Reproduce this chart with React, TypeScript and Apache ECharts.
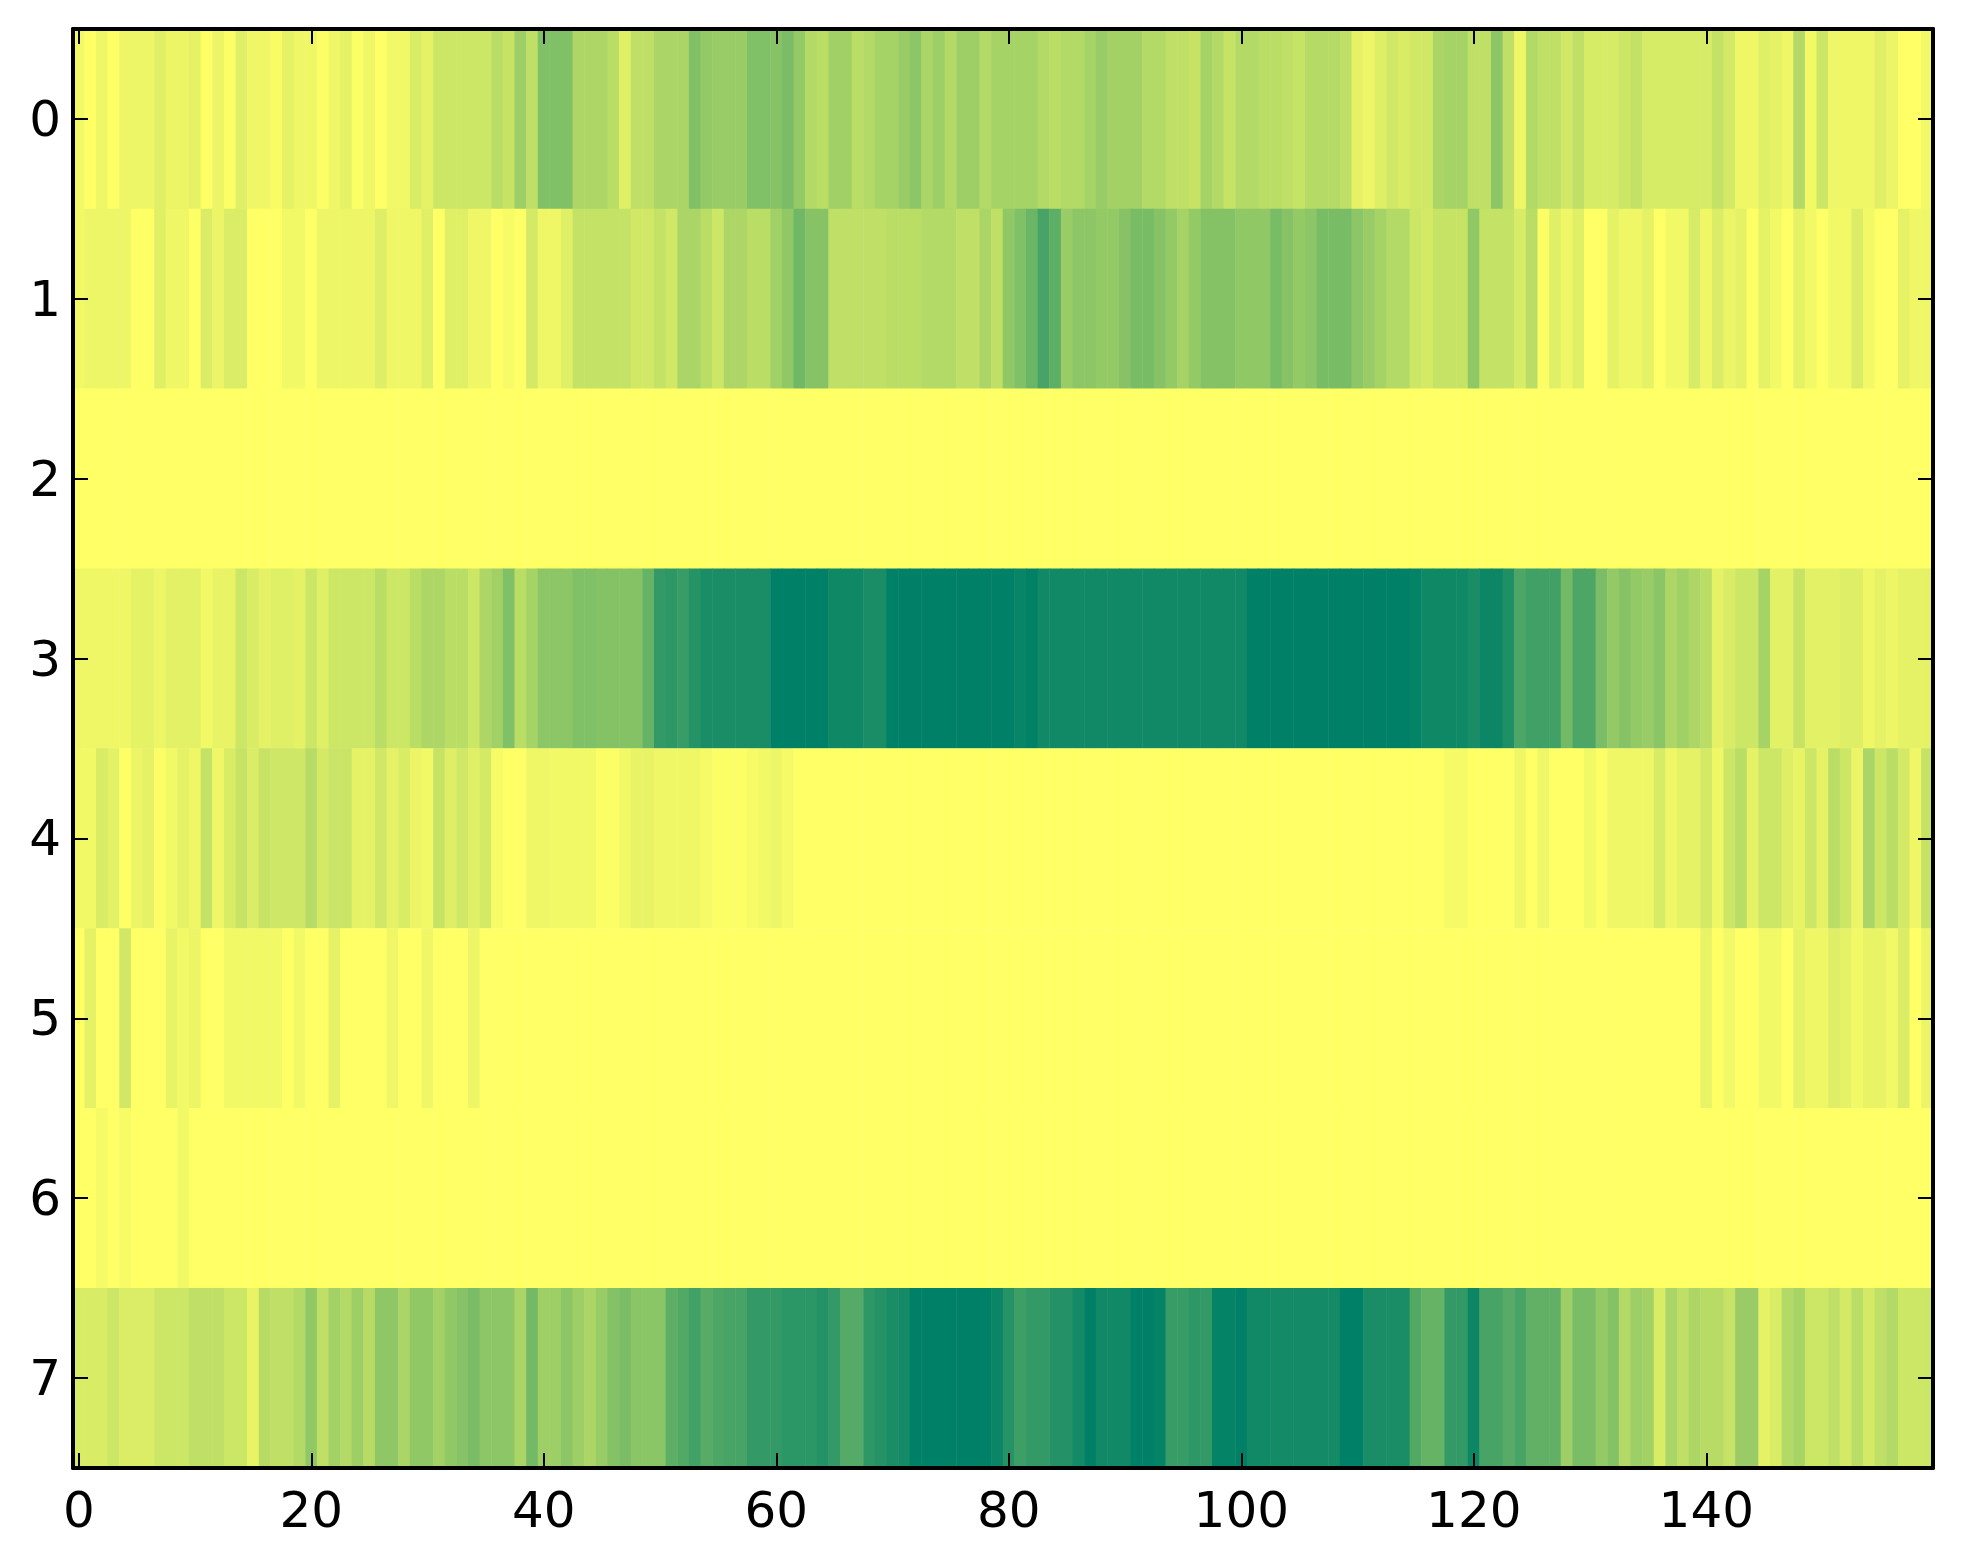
import React, { useEffect, useRef } from "react";
import * as echarts from "echarts";

const xCategories = Array.from({ length: 160 }, (_, i) => String(i));
const yCategories = ["0", "1", "2", "3", "4", "5", "6", "7"];

const row0 = [
  .05,0,.06,0,.07,.07,.07,.12,.08,.08,
  .10,0,.08,.01,.12,.06,.06,.02,.10,.06,
  .06,.01,.06,.10,.01,.06,0,.05,.05,.15,
  .10,.20,.20,.20,.20,.20,.27,.22,.38,.25,
  .50,.50,.50,.32,.32,.32,.27,.12,.25,.25,
  .33,.33,.33,.50,.42,.40,.40,.40,.50,.50,
  .47,.52,.42,.30,.27,.37,.37,.27,.30,.35,
  .35,.40,.45,.33,.38,.30,.38,.38,.30,.35,
  .35,.35,.35,.30,.27,.30,.30,.35,.40,.36,
  .36,.36,.30,.30,.25,.25,.22,.35,.30,.22,
  .30,.30,.27,.27,.25,.22,.29,.29,.29,.25,
  .10,.07,.13,.18,.15,.18,.18,.33,.35,.35,
  .25,.25,.45,.25,.06,.30,.25,.25,.18,.25,
  .16,.16,.16,.20,.24,.16,.16,.16,.16,.16,
  .16,.23,.17,.06,.06,.12,.10,.06,.30,.05,
  .20,.06,.06,.06,.06,.12,.08,0,0,.05,
];
const row1 = [
  .05,.07,.07,.07,.07,0,0,.12,.06,.06,
  0,.14,.08,.14,.14,0,0,0,.05,.05,
  0,.07,.07,.07,.07,.07,.13,.06,.06,.06,
  .12,0,.12,.12,.06,.06,0,.03,0,.17,
  .06,.06,.12,.23,.23,.23,.23,.23,.18,.18,
  .23,.18,.33,.33,.27,.20,.32,.32,.27,.27,
  .37,.43,.56,.47,.47,.25,.25,.25,.25,.25,
  .27,.27,.27,.30,.30,.30,.25,.25,.33,.25,
  .43,.50,.58,.72,.63,.40,.45,.45,.42,.42,
  .47,.53,.53,.47,.42,.35,.42,.48,.48,.48,
  .43,.43,.43,.53,.47,.42,.45,.53,.53,.53,
  .45,.40,.35,.30,.30,.20,.17,.22,.22,.22,
  .43,.23,.23,.23,.15,.27,.01,.12,.06,.12,
  0,0,.10,.06,.06,.10,0,.05,.05,.16,
  .06,.14,.08,.10,0,.10,.05,0,.10,.05,
  0,.05,.05,.14,.05,0,0,.10,.06,.06,
];
const row2 = Array.from({ length: 160 }, () => 0);
const row3 = [
  .06,.06,.06,.06,.06,.10,.10,.07,.11,.11,
  .11,.05,.09,.09,.20,.15,.10,.12,.12,.10,
  .20,.12,.20,.20,.20,.20,.27,.20,.20,.27,
  .32,.32,.27,.27,.20,.32,.37,.50,.27,.35,
  .45,.45,.45,.50,.50,.48,.48,.48,.48,.60,
  .80,.82,.78,.85,.90,.90,.90,.90,.90,.90,
  1,1,1,1,1,.94,.94,.94,.90,.90,
  1,1,1,1,1,1,1,1,1,1,
  1,.97,.99,.93,.93,.93,.93,.93,.93,.93,
  .93,.93,.93,.93,.93,.93,.93,.93,.93,.93,
  .93,1,1,1,1,1,1,1,1,1,
  1,1,1,1,1,.98,.94,.94,.94,.94,
  .90,.95,.95,.88,.70,.75,.75,.75,.55,.70,
  .70,.52,.42,.47,.42,.40,.46,.32,.37,.32,
  .27,.10,.15,.20,.20,.35,.11,.11,.22,.11,
  .11,.11,.13,.13,.06,.10,.07,.10,.10,.10,
];
const row4 = [
  .05,.05,.15,.11,0,.08,.10,.01,.05,.10,
  .06,.23,.06,.15,.22,.14,.22,.19,.19,.19,
  .28,.17,.21,.21,.10,.10,.18,.10,.15,.08,
  .05,.22,.13,.18,.12,.17,.03,0,0,.06,
  .06,.05,.05,.05,.05,.01,.01,.05,.09,.09,
  .06,.06,.06,.06,.04,.01,.01,.01,.03,.05,
  .07,.04,0,0,0,0,0,0,0,0,
  0,0,0,0,0,0,0,0,0,0,
  0,0,0,0,0,0,0,0,0,0,
  0,0,0,0,0,0,0,0,0,0,
  0,0,0,0,0,0,0,0,0,0,
  0,0,0,0,0,0,0,0,.04,.04,
  0,0,0,0,.06,0,.06,0,0,0,
  .05,.01,.06,.06,.06,.06,.16,.06,.10,.10,
  .17,.06,.20,.27,.10,.20,.20,.13,.09,.20,
  .10,.27,.20,.08,.33,.20,.27,.17,.06,.22,
];
const row5 = [
  0,.10,0,0,.18,0,0,0,.09,.05,
  .08,0,0,.05,.05,.05,.05,.05,0,.05,
  0,0,.10,0,0,0,0,.06,0,0,
  .06,0,0,0,.07,0,0,0,0,0,
  0,0,0,0,0,0,0,0,0,0,
  0,0,0,0,0,0,0,0,0,0,
  0,0,0,0,0,0,0,0,0,0,
  0,0,0,0,0,0,0,0,0,0,
  0,0,0,0,0,0,0,0,0,0,
  0,0,0,0,0,0,0,0,0,0,
  0,0,0,0,0,0,0,0,0,0,
  0,0,0,0,0,0,0,0,0,0,
  0,0,0,0,0,0,0,0,0,0,
  0,0,0,0,0,0,0,0,0,0,
  .09,0,.05,0,0,.05,.05,0,.10,.06,
  .06,.13,.10,.05,.09,.09,.05,.14,0,.08,
];
const row6 = [
  0,0,.04,0,.03,0,0,0,0,.05,
  0,0,0,0,0,0,0,0,0,0,
  0,0,0,0,0,0,0,0,0,0,
  0,0,0,0,0,0,0,0,0,0,
  0,0,0,0,0,0,0,0,0,0,
  0,0,0,0,0,0,0,0,0,0,
  0,0,0,0,0,0,0,0,0,0,
  0,0,0,0,0,0,0,0,0,0,
  0,0,0,0,0,0,0,0,0,0,
  0,0,0,0,0,0,0,0,0,0,
  0,0,0,0,0,0,0,0,0,0,
  0,0,0,0,0,0,0,0,0,0,
  0,0,0,0,0,0,0,0,0,0,
  0,0,0,0,0,0,0,0,0,0,
  0,0,0,0,0,0,0,0,0,0,
  0,0,0,0,0,0,0,0,0,0,
];
const row7 = [
  .15,.15,.15,.20,.14,.14,.14,.20,.20,.20,
  .25,.25,.25,.20,.20,.09,.28,.25,.25,.30,
  .43,.25,.36,.30,.38,.28,.44,.44,.33,.43,
  .43,.36,.43,.47,.52,.45,.45,.45,.33,.55,
  .38,.38,.45,.38,.33,.40,.48,.52,.46,.46,
  .46,.63,.68,.74,.66,.70,.72,.72,.80,.80,
  .80,.83,.83,.83,.86,.80,.67,.67,.82,.85,
  .90,.92,1,1,1,1,1,1,1,.96,
  .85,.76,.80,.80,.86,.86,.92,1,.93,.93,
  .93,1,1,.98,.78,.78,.82,.80,.98,.98,
  1,.93,.93,.92,.92,.92,.92,.92,.92,1,
  1,.90,.90,.90,.90,.68,.60,.60,.80,.80,
  .95,.72,.72,.66,.72,.62,.62,.62,.38,.52,
  .52,.42,.48,.30,.38,.36,.15,.33,.25,.32,
  .28,.28,.22,.40,.40,.10,.15,.30,.34,.20,
  .20,.25,.17,.27,.17,.25,.30,.20,.20,.20,
];
const rows = [row0, row1, row2, row3, row4, row5, row6, row7];

const cells: number[][] = [];
rows.forEach((row, y) => row.forEach((v, x) => cells.push([x, y, v])));

const FONT = "DejaVu Sans";

export default function App() {
  const ref = useRef<HTMLDivElement>(null);
  useEffect(() => {
    const chart = echarts.init(ref.current!, undefined, { renderer: "svg" });
    const xBase = {
      type: "category" as const,
      data: xCategories,
      boundaryGap: true,
      z: 10,
      axisLine: { show: true, onZero: false, lineStyle: { color: "#000", width: 4 } },
      axisTick: { show: true, inside: true, length: 15, interval: 19, alignWithLabel: true, lineStyle: { color: "#000", width: 2 } },
      splitLine: { show: false },
    };
    const yBase = {
      type: "category" as const,
      data: yCategories,
      inverse: true,
      boundaryGap: true,
      z: 10,
      axisLine: { show: true, onZero: false, lineStyle: { color: "#000", width: 4 } },
      axisTick: { show: true, inside: true, length: 15, alignWithLabel: true, lineStyle: { color: "#000", width: 2 } },
      splitLine: { show: false },
    };
    chart.setOption({
      animation: false,
      backgroundColor: "#fff",
      grid: { left: 73, top: 29, width: 1860, height: 1439, containLabel: false },
      xAxis: [
        { ...xBase, position: "bottom", axisLabel: { show: true, interval: 19, margin: 17, color: "#000", fontFamily: FONT, fontSize: 50 } },
        { ...xBase, position: "top", axisLabel: { show: false } },
      ],
      yAxis: [
        { ...yBase, position: "left", axisLabel: { show: true, interval: 0, margin: 12, padding: [0, 0, 3, 0], color: "#000", fontFamily: FONT, fontSize: 50 } },
        { ...yBase, position: "right", axisLabel: { show: false } },
      ],
      visualMap: { show: false, type: "continuous", min: 0, max: 1, dimension: 2, seriesIndex: 0, inRange: { color: ["#ffff66", "#008066"] } },
      series: [
        {
          type: "heatmap",
          xAxisIndex: 0,
          yAxisIndex: 0,
          data: cells,
          silent: true,
          progressive: 0,
          emphasis: { disabled: true },
          itemStyle: { borderWidth: 0 },
        },
      ],
    });
    return () => chart.dispose();
  }, []);
  return <div ref={ref} style={{ position: "absolute", left: 0, top: 0, width: 1963, height: 1564 }} />;
}
